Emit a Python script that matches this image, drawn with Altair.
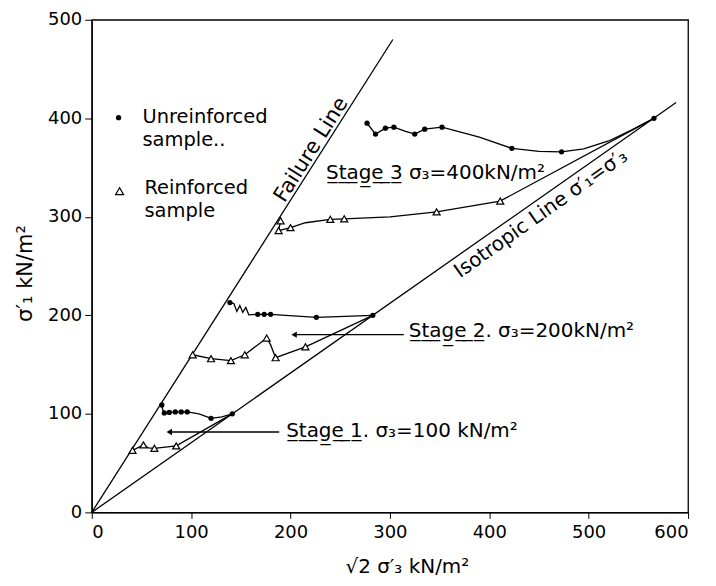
import altair as alt
import pandas as pd

# ---------------- data ----------------
X_TICKS = [0, 100, 200, 300, 400, 500, 600]
Y_TICKS = [0, 100, 200, 300, 400, 500]

FAILURE_X = [0, 303]
FAILURE_Y = [0, 480]
ISO_X = [0, 588]
ISO_Y = [0, 416]

# Stage 1 (sigma3 = 100)
S1U_X = [141.4, 131, 120, 108, 96, 90, 84, 78, 73, 71.5, 70.5]
S1U_Y = [100, 97, 95.5, 100, 102, 102, 102, 101.5, 101, 104, 109]
S1U_M = [1, 0, 1, 0, 1, 1, 1, 1, 1, 0, 1]

S1R_X = [141.4, 85, 63, 57, 52, 41]
S1R_Y = [100, 67.5, 65, 65.5, 68.5, 63]
S1R_M = [0, 1, 1, 0, 1, 1]

# Stage 2 (sigma3 = 200)
S2U_X = [282.8, 226, 180, 173.5, 167, 158, 155, 152, 149, 146, 143, 139]
S2U_Y = [200, 198, 201, 201, 201, 200.5, 208, 203, 210, 204, 212, 213]
S2U_M = [1, 1, 1, 1, 1, 0, 0, 0, 0, 0, 0, 1]

S2R_X = [282.8, 215, 185, 180, 176, 154, 140, 130, 120, 101.5]
S2R_Y = [200, 168, 157, 170, 177, 160, 154, 155, 156, 160]
S2R_M = [0, 1, 1, 0, 1, 1, 1, 0, 1, 1]

# Stage 3 (sigma3 = 400)
S3U_X = [565.7, 543, 520, 495, 472.7, 450, 422.7, 390, 352.4, 335, 325, 315, 304, 295.5, 285.5, 277]
S3U_Y = [400, 388, 377, 369, 366, 366.5, 369.5, 381, 391, 389, 384, 387, 391, 390, 384, 395]
S3U_M = [1, 0, 0, 0, 1, 0, 1, 0, 1, 1, 1, 0, 1, 1, 1, 1]

S3R_X = [565.7, 411, 347, 300, 254, 240, 215, 200, 188, 190]
S3R_Y = [400, 316, 305, 300, 298, 297.5, 294, 289, 286, 296]
S3R_M = [0, 1, 1, 0, 1, 1, 0, 1, 1, 1]

# annotation arrows (pointing left)
ARROW_X1 = [78, 203.6]
ARROW_X2 = [188.6, 314]
ARROW_Y = [81.6, 180.4]

def ul(s):
    return "".join(c + "\u0332" for c in s)

STAGE_TEXT = [ul("Stage 3") + " σ₃=400kN/m²",
              ul("Stage 2") + ". σ₃=200kN/m²",
              ul("Stage 1") + ". σ₃=100 kN/m²"]
STAGE_X = [235.7, 319, 195.6]
STAGE_Y = [344.4, 183.7, 82.3]

LEGEND_TEXT = ["Unreinforced\nsample..", "Reinforced\nsample"]
LEGEND_TX = [51, 53]
LEGEND_TY = [401, 329]
LEGEND_SX = [27, 28]
LEGEND_SY = [400.6, 326]

FAIL_LABEL = "Failure Line"
FAIL_LX, FAIL_LY = 221, 368
ISO_LABEL = "Isotropic Line σ′₁=σ′₃"
ISO_LX, ISO_LY = 452, 303

FONT = "DejaVu Sans"

# ---------------- tables ----------------
rows = []
def add(name, xs, ys, ms=None, kind="line"):
    for i, (a, b) in enumerate(zip(xs, ys)):
        rows.append({"s": name, "x": a, "y": b, "o": i,
                     "m": (ms[i] if ms else 0), "kind": kind})

add("fail", FAILURE_X, FAILURE_Y)
add("iso", ISO_X, ISO_Y)
add("s1u", S1U_X, S1U_Y, S1U_M, "u")
add("s1r", S1R_X, S1R_Y, S1R_M, "r")
add("s2u", S2U_X, S2U_Y, S2U_M, "u")
add("s2r", S2R_X, S2R_Y, S2R_M, "r")
add("s3u", S3U_X, S3U_Y, S3U_M, "u")
add("s3r", S3R_X, S3R_Y, S3R_M, "r")
for k in range(len(ARROW_Y)):
    add("arrow%d" % k, [ARROW_X1[k], ARROW_X2[k]], [ARROW_Y[k], ARROW_Y[k]])
df = pd.DataFrame(rows)

heads = pd.DataFrame({"x": ARROW_X1, "y": ARROW_Y})
dots = df[(df.kind == "u") & (df.m == 1)]
tris = df[(df.kind == "r") & (df.m == 1)]
stages = pd.DataFrame({"x": STAGE_X, "y": STAGE_Y, "t": STAGE_TEXT})
legt = pd.DataFrame({"x": LEGEND_TX, "y": LEGEND_TY, "t": LEGEND_TEXT})
legdot = pd.DataFrame({"x": LEGEND_SX[:1], "y": LEGEND_SY[:1]})
legtri = pd.DataFrame({"x": LEGEND_SX[1:], "y": LEGEND_SY[1:]})
faillab = pd.DataFrame({"x": [FAIL_LX], "y": [FAIL_LY], "t": [FAIL_LABEL]})
isolab = pd.DataFrame({"x": [ISO_LX], "y": [ISO_LY], "t": [ISO_LABEL]})

xs = alt.Scale(domain=[0, 600], nice=False, zero=False)
ys = alt.Scale(domain=[0, 500], nice=False, zero=False)
xaxis = alt.Axis(values=X_TICKS, title="√2  σ′₃ kN/m²", grid=False,
                 titleX=316, titleY=54, titleBaseline="middle", titleAlign="center",
                 titleFont=FONT, titleFontSize=20, titleFontWeight="normal", titleColor="black",
                 labelFont=FONT, labelFontSize=18, labelColor="black", labelPadding=5,
                 tickSize=6, tickColor="black", domainColor="black", domainWidth=1.3)
yaxis = alt.Axis(values=Y_TICKS, title="σ′₁ kN/m²", grid=False,
                 titleX=-66, titleY=254, titleAngle=270, titleBaseline="middle", titleAlign="center",
                 titleFont=FONT, titleFontSize=21, titleFontWeight="normal", titleColor="black",
                 labelFont=FONT, labelFontSize=18, labelColor="black", labelPadding=3,
                 tickSize=7, tickColor="black", domainColor="black", domainWidth=1.3)
X = alt.X("x:Q", scale=xs, axis=xaxis)
Y = alt.Y("y:Q", scale=ys, axis=yaxis)

lines = alt.Chart(df).mark_line(color="black", strokeWidth=1.3).encode(
    x=X, y=Y, detail="s:N", order="o:Q")
dot_l = alt.Chart(dots).mark_point(shape="circle", filled=True, color="black", size=28, opacity=1).encode(x=X, y=Y)
tri_l = alt.Chart(tris).mark_point(shape="triangle-up", filled=True, fill="white", stroke="black",
                                   strokeWidth=1.2, size=50, opacity=1).encode(x=X, y=Y)
head_l = alt.Chart(heads).mark_point(shape="triangle-left", filled=True, color="black", size=40, opacity=1).encode(x=X, y=Y)
stage_l = alt.Chart(stages).mark_text(align="left", baseline="middle", font=FONT, fontSize=20, color="black").encode(
    x=X, y=Y, text="t:N")
leg_l = alt.Chart(legt).mark_text(align="left", baseline="middle", font=FONT, fontSize=19.5, color="black",
                                  lineBreak="\n", lineHeight=23).encode(x=X, y=Y, text="t:N")
legdot_l = alt.Chart(legdot).mark_point(shape="circle", filled=True, color="black", size=28, opacity=1).encode(x=X, y=Y)
legtri_l = alt.Chart(legtri).mark_point(shape="triangle-up", filled=True, fill="white", stroke="black",
                                        strokeWidth=1.2, size=65, opacity=1).encode(x=X, y=Y)
fail_l = alt.Chart(faillab).mark_text(align="center", baseline="middle", font=FONT, fontSize=21, color="black",
                                      angle=302.3).encode(x=X, y=Y, text="t:N")
iso_l = alt.Chart(isolab).mark_text(align="center", baseline="middle", font=FONT, fontSize=20, color="black",
                                    angle=324.7).encode(x=X, y=Y, text="t:N")

chart = alt.layer(lines, dot_l, tri_l, head_l, stage_l, leg_l, legdot_l, legtri_l, fail_l, iso_l).properties(
    width=598, height=494,
    autosize=alt.AutoSizeParams(type="none"),
    padding={"left": 84, "top": 11, "right": 20, "bottom": 72},
    background="white",
).configure_view(stroke="black", strokeWidth=1.3)

chart.save("out.html", embed_options={"renderer": "svg", "actions": False})
